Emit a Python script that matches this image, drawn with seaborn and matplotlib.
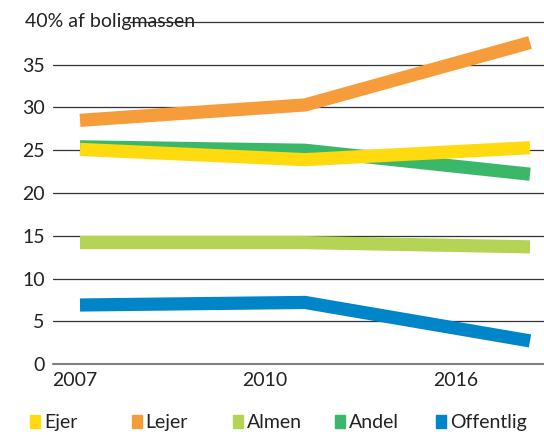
import matplotlib
matplotlib.use("Agg")
import matplotlib.pyplot as plt
from matplotlib.patches import Rectangle
import pandas as pd
import seaborn as sns

years = ["2007", "2010", "2016"]
series = ["Ejer", "Lejer", "Almen", "Andel", "Offentlig"]
ejer = [25.1, 23.9, 25.3]
lejer = [28.5, 30.3, 37.6]
almen = [14.2, 14.2, 13.7]
andel = [25.4, 25.0, 22.2]
offentlig = [6.9, 7.2, 2.7]

colors = {
    "Ejer": "#FEDA0E",
    "Lejer": "#F79C3A",
    "Almen": "#B5D455",
    "Andel": "#3AB769",
    "Offentlig": "#0085C8",
}
values = {"Ejer": ejer, "Lejer": lejer, "Almen": almen, "Andel": andel, "Offentlig": offentlig}

rows = []
for name in series:
    for i, v in enumerate(values[name]):
        rows.append({"pos": i, "serie": name, "pct": v})
df = pd.DataFrame(rows)

sns.set_style("white")
plt.rcParams["font.family"] = ["Lato", "DejaVu Sans"]

fig = plt.figure(figsize=(5.44, 4.36), dpi=100)
ax = fig.add_axes([53 / 544, 1 - 364 / 436, 1 - 53 / 544, 342 / 436])

# gridlines first, lines on top
for t in range(5, 40, 5):
    ax.axhline(t, color="#333333", lw=0.9, zorder=0)
ax.axhline(40, xmin=0.157, color="#333333", lw=0.9, zorder=0, clip_on=False)
ax.axhline(0, color="#808080", lw=1.5, zorder=0)

draw_order = ["Offentlig", "Almen", "Andel", "Ejer", "Lejer"]
sns.lineplot(data=df, x="pos", y="pct", hue="serie", hue_order=draw_order,
             palette=colors, linewidth=9.5, legend=False, sort=False, ax=ax,
             solid_capstyle="butt", solid_joinstyle="miter")
for ln in ax.get_lines():
    ln.set_clip_on(False)

ax.set_xlim(-27 / 225, 2 + 14 / 225)
ax.set_ylim(0, 40)
ax.set_yticks(range(0, 40, 5))
ax.set_yticklabels([str(t) for t in range(0, 40, 5)])
ax.set_xticks([-0.022, 0.822, 1.671])
ax.set_xticklabels(years)
ax.tick_params(axis="y", length=0, pad=6, labelsize=14, colors="#222222")
ax.tick_params(axis="x", length=0, pad=6, labelsize=14, colors="#222222")
ax.set_xlabel("")
ax.set_ylabel("")
for s in ax.spines.values():
    s.set_visible(False)

fig.text(25 / 544, 1 - 22 / 436, "40% af boligmassen", fontsize=14,
         color="#222222", ha="left", va="center")

# legend row
for i, name in enumerate(series):
    x0 = (30 + i * 101.5) / 544
    fig.patches.append(Rectangle((x0, 1 - 428 / 436), 10 / 544, 13 / 436,
                                 transform=fig.transFigure, color=colors[name]))
    fig.text(x0 + 14 / 544, 1 - 422 / 436, name, fontsize=14, color="#222222",
             ha="left", va="center")

fig.savefig("out.png", dpi=100)
